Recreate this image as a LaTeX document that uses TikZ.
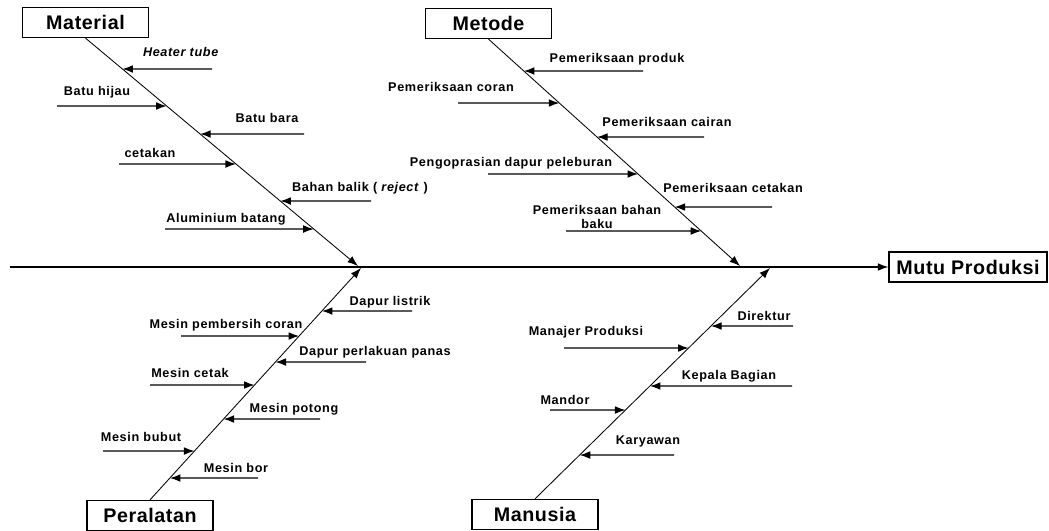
\documentclass[tikz,border=0pt]{standalone}
\usepackage{fontspec}
\setmainfont{Liberation Sans}
\newfontfamily\causefont{Liberation Sans}[LetterSpace=5]
\newfontfamily\headfont{Liberation Sans}[LetterSpace=3]
\usetikzlibrary{arrows.meta}

\begin{document}
\begin{tikzpicture}[
        x=0.025cm, y=-0.025cm,
        >={Latex[length=7.5pt,width=5.5pt]},
        catbox/.style={draw, line width=0.9pt, inner sep=0pt, minimum width=3.15cm, minimum height=0.75cm, font=\headfont\bfseries\fontsize{14}{16}\selectfont},
        cause/.style={inner sep=0pt, anchor=base, font=\causefont\bfseries\fontsize{9}{10}\selectfont},
        arrow/.style={->, line width=0.8pt},
        bone/.style={->, line width=0.6pt}
    ]
    \useasboundingbox (0,0) rectangle (1049,531);

    % Categories and effect
    \node[catbox] (material) at (85.5,22.5) {Material};
    \node[catbox] (metode) at (488.5,23.5) {Metode};
    \node[catbox] (peralatan) at (150,515.5) {Peralatan};
    \node[catbox] (manusia) at (535,514.5) {Manusia};
    \node[catbox, minimum width=3.95cm] (mutu) at (968,267) {Mutu Produksi};

    % Spine and bones
    \coordinate (tail) at (10,267);
    \coordinate (matTip) at (358,266);
    \coordinate (metTip) at (740,266);
    \coordinate (perTip) at (361,268);
    \coordinate (manTip) at (770,268);
    \draw[arrow] (tail) -- (mutu.west);
    \draw[bone] (material.south) -- (matTip);
    \draw[bone] (metode.south) -- (metTip);
    \draw[bone] (peralatan.north) -- (perTip);
    \draw[bone] (manusia.north) -- (manTip);

    % Material
    \foreach \y/\x/\lx/\ly/\txt [count=\i] in {
        69/212/181/57/\textit{Heater tube},
        106/57/97/96/Batu hijau,
        134/304/267/122/Batu bara,
        164/119/150/158/cetakan,
        201/371/360/191/Bahan balik ( \textit{reject} ),
        229/165/226/222/Aluminium batang}{
        \coordinate (mat\i) at (\x,\y);
        \draw[arrow] (mat\i) -- (intersection of material.south--matTip and 0,\y--1,\y);
        \node[cause] (matlbl\i) at (\lx,\ly) {\txt};
    }

    % Metode
    \foreach \y/\x/\lx/\ly/\txt [count=\i] in {
        71/643/617/63/Pemeriksaan produk,
        103/458/451/92/Pemeriksaan coran,
        137/704/667/127/Pemeriksaan cairan,
        174/488/511/166/Pengoprasian dapur peleburan,
        207/772/733/192/Pemeriksaan cetakan}{
        \coordinate (met\i) at (\x,\y);
        \draw[arrow] (met\i) -- (intersection of metode.south--metTip and 0,\y--1,\y);
        \node[cause] (metlbl\i) at (\lx,\ly) {\txt};
    }
    \coordinate (met6) at (566,231);
    \draw[arrow] (met6) -- (intersection of metode.south--metTip and 0,231--1,231);
    \node[cause, anchor=north, align=center] (metlbl6) at (597,205) {Pemeriksaan bahan\\baku};

    % Peralatan
    \foreach \y/\x/\lx/\ly/\txt [count=\i] in {
        311/412/390/305/Dapur listrik,
        336/181/226/328/Mesin pembersih coran,
        362/366/375/355/Dapur perlakuan panas,
        385/150/190/377/Mesin cetak,
        419/320/294/412/Mesin potong,
        451/103/141/441/Mesin bubut,
        478/258/236/472/Mesin bor}{
        \coordinate (per\i) at (\x,\y);
        \draw[arrow] (per\i) -- (intersection of peralatan.north--perTip and 0,\y--1,\y);
        \node[cause] (perlbl\i) at (\lx,\ly) {\txt};
    }

    % Manusia
    \foreach \y/\x/\lx/\ly/\txt [count=\i] in {
        326/793/764/320/Direktur,
        348/564/586/335/Manajer Produksi,
        386/792/729/379/Kepala Bagian,
        410/550/565/404/Mandor,
        455/674/648/444/Karyawan}{
        \coordinate (man\i) at (\x,\y);
        \draw[arrow] (man\i) -- (intersection of manusia.north--manTip and 0,\y--1,\y);
        \node[cause] (manlbl\i) at (\lx,\ly) {\txt};
    }
\end{tikzpicture}
\end{document}
